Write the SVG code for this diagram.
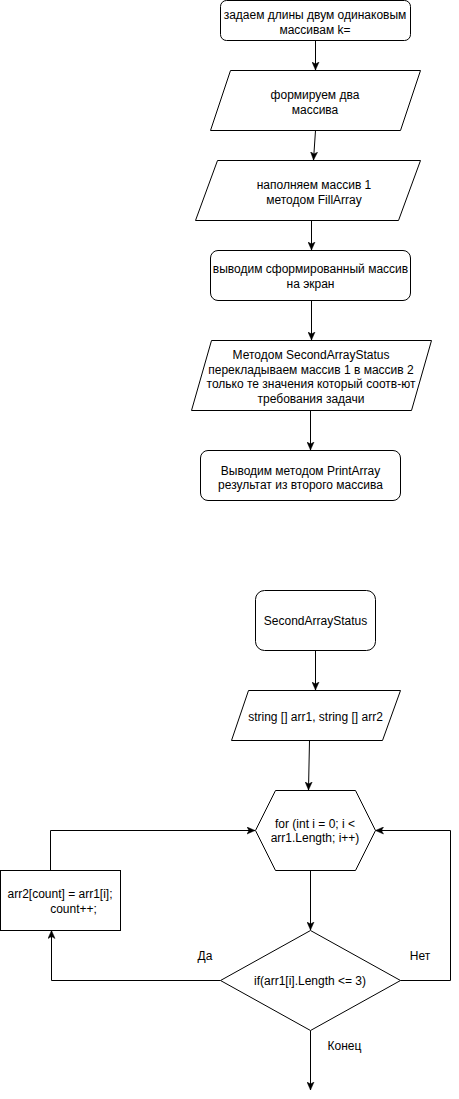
<svg xmlns="http://www.w3.org/2000/svg" width="459" height="1099" viewBox="0 0 459 1099">
<style>
.s{fill:#fff;stroke:#000;stroke-width:1}
.t{font-family:"Liberation Sans",Arial,Helvetica,sans-serif;font-size:12px;fill:#000;text-anchor:middle}
.c{fill:none;stroke:#000;stroke-width:1}
</style>
<defs>
<marker id="ah" markerUnits="userSpaceOnUse" markerWidth="9" markerHeight="8" refX="8" refY="4" orient="auto">
<path d="M0,0.5 L8,4 L0,7.5 L2,4 Z" fill="#000" stroke="#000" stroke-width="0.5"/>
</marker>
</defs>
<rect width="459" height="1099" fill="#fff"/>
<g id="connectors">
<path class="c" d="M315.5,40.5 L315.5,70" marker-end="url(#ah)"/>
<path class="c" d="M315.5,130.5 L313.5,160" marker-end="url(#ah)"/>
<path class="c" d="M311.5,220.5 L311.5,250" marker-end="url(#ah)"/>
<path class="c" d="M311.5,300.5 L311.5,340" marker-end="url(#ah)"/>
<path class="c" d="M310.5,410.5 L310.5,450" marker-end="url(#ah)"/>
<path class="c" d="M315.5,650.5 L315.5,690" marker-end="url(#ah)"/>
<path class="c" d="M309.5,740.5 L308.5,790" marker-end="url(#ah)"/>
<path class="c" d="M310.5,870.5 L310.5,930" marker-end="url(#ah)"/>
<path class="c" d="M50.5,870.5 L50.5,830.5 L255,830.5" marker-end="url(#ah)"/>
<path class="c" d="M220.5,980.5 L51.5,980.5 L51.5,930.5" marker-end="url(#ah)"/>
<path class="c" d="M400.5,980.5 L450.5,980.5 L450.5,830.5 L375.5,830.5" marker-end="url(#ah)"/>
<path class="c" d="M310.5,1030.5 L310.5,1090" marker-end="url(#ah)"/>
<text class="t" x="205" y="959.5">Да</text>
<text class="t" x="420" y="959.5">Нет</text>
<text class="t" x="344.5" y="1049.5">Конец</text>
</g>
<g id="n1">
<rect class="s" x="220.5" y="0.5" width="190" height="40" rx="6"/>
<text class="t" x="315" y="19">задаем длины двум одинаковым</text>
<text class="t" x="315" y="33.5">массивам k=</text>
</g>
<g id="n2">
<polygon class="s" points="230.5,70.5 420.5,70.5 400.5,130.5 210.5,130.5"/>
<text class="t" x="315" y="98.5">формируем два</text>
<text class="t" x="315" y="113.5">массива</text>
</g>
<g id="n3">
<polygon class="s" points="217.5,160.5 420.5,160.5 398.5,220.5 195.5,220.5"/>
<text class="t" x="314" y="189">наполняем массив 1</text>
<text class="t" x="314" y="204">методом FillArray</text>
</g>
<g id="n4">
<rect class="s" x="210.5" y="250.5" width="200" height="50" rx="7.5"/>
<text class="t" x="310.5" y="272.5">выводим сформированный массив</text>
<text class="t" x="310.5" y="287.5">на экран</text>
</g>
<g id="n5">
<polygon class="s" points="211.5,340.5 431.5,340.5 411.5,410.5 191.5,410.5"/>
<text class="t" x="311" y="359">Методом SecondArrayStatus</text>
<text class="t" x="311" y="373.5">перекладываем массив 1 в массив 2</text>
<text class="t" x="311" y="388">только те значения который соотв-ют</text>
<text class="t" x="311" y="402.5">требования задачи</text>
</g>
<g id="n6">
<rect class="s" x="200.5" y="450.5" width="200" height="50" rx="7.5"/>
<text class="t" x="300.5" y="474.5">Выводим методом PrintArray</text>
<text class="t" x="300.5" y="488.5">результат из второго массива</text>
</g>
<g id="n7">
<rect class="s" x="255.5" y="590.5" width="120" height="60" rx="9"/>
<text class="t" x="315.5" y="624.5">SecondArrayStatus</text>
</g>
<g id="n8">
<polygon class="s" points="248.5,690.5 400.5,690.5 382.5,740.5 231.5,740.5"/>
<text class="t" x="315.5" y="721">string [] arr1, string [] arr2</text>
</g>
<g id="n9">
<polygon class="s" points="275.5,790.5 355.5,790.5 375.5,830.5 355.5,870.5 275.5,870.5 255.5,830.5"/>
<text class="t" x="315" y="827.5">for (int i = 0; i &lt;</text>
<text class="t" x="315" y="841.5">arr1.Length; i++)</text>
</g>
<g id="n10">
<polygon class="s" points="310.5,930.5 400.5,980.5 310.5,1030.5 220.5,980.5"/>
<text class="t" x="310" y="984.5">if(arr1[i].Length &lt;= 3)</text>
</g>
<g id="n11">
<rect class="s" x="0.5" y="870.5" width="120" height="60"/>
<text class="t" x="60" y="898">arr2[count] = arr1[i];</text>
<text class="t" x="73.5" y="913">count++;</text>
</g>
</svg>
